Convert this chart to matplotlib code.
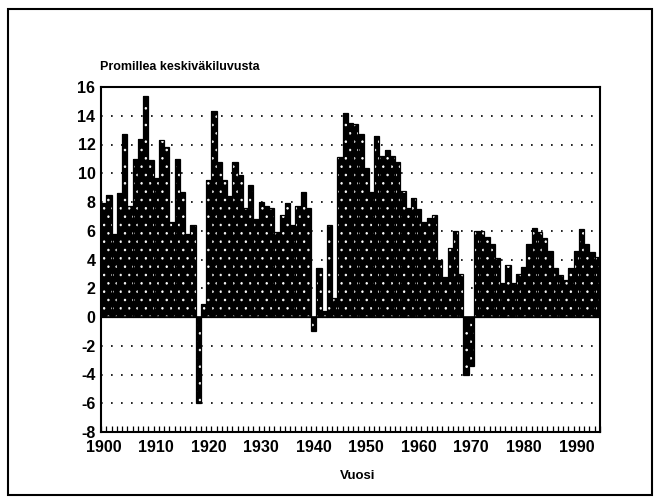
import matplotlib.pyplot as plt
from matplotlib.patches import Rectangle


YEARS = list(range(1900, 1995))

# population growth, per mille of mean population
GROWTH = [
    7.9, 8.5, 5.8, 8.6, 12.7, 7.7, 11.0, 12.4, 15.4, 10.9,      # 1900-1909
    9.7, 12.3, 11.8, 6.6, 11.0, 8.7, 5.8, 6.4, -6.0, 0.9,       # 1910-1919
    9.5, 14.3, 10.8, 9.5, 8.4, 10.8, 9.9, 7.6, 9.2, 6.8,        # 1920-1929
    8.0, 7.7, 7.6, 5.9, 7.1, 7.9, 6.4, 7.7, 8.7, 7.6,           # 1930-1939
    -1.0, 3.4, 0.4, 6.4, 1.3, 11.1, 14.2, 13.5, 13.4, 12.7,     # 1940-1949
    10.4, 8.7, 12.6, 11.2, 11.6, 11.2, 10.8, 8.8, 7.6, 8.3,     # 1950-1959
    7.5, 6.6, 6.9, 7.1, 4.0, 2.8, 4.8, 6.0, 3.0, -4.0,          # 1960-1969
    -3.4, 6.0, 6.0, 5.6, 5.1, 4.1, 2.4, 3.6, 2.4, 3.0,          # 1970-1979
    3.5, 5.1, 6.2, 5.9, 5.5, 4.6, 3.4, 2.9, 2.6, 3.4,           # 1980-1989
    4.6, 6.1, 5.1, 4.5, 4.2,                                    # 1990-1994
]

DECADES = list(range(1900, 2000, 10))
Y_TICKS = list(range(-8, 17, 2))

TITLE = 'Promillea keskiväkiluvusta'
XLABEL = 'Vuosi'


def main():
    W, H = 662, 504
    plt.rcParams['font.family'] = ['Liberation Sans', 'DejaVu Sans']
    plt.rcParams['hatch.linewidth'] = 0.6

    fig = plt.figure(figsize=(W / 100, H / 100), dpi=100)
    ax = fig.add_axes([101 / W, 72 / H, 499 / W, 345 / H])

    # dark stippled bars: white dots on black, then black outlines on top
    ax.bar(YEARS, GROWTH, width=1.0, color='black', edgecolor='white',
           hatch='..', linewidth=0, zorder=2)
    ax.bar(YEARS, GROWTH, width=1.0, color='none', edgecolor='black',
           linewidth=0.9, zorder=3)

    for y in Y_TICKS[1:-1]:
        if y == 0:
            ax.axhline(0, color='black', linewidth=1.2, zorder=4)
        else:
            ax.axhline(y, color='black', linestyle=(0, (1, 5)),
                       linewidth=1.2, zorder=1)

    ax.set_xlim(YEARS[0] - 0.5, YEARS[-1] + 0.5)
    ax.set_ylim(Y_TICKS[0], Y_TICKS[-1])

    ax.set_yticks(Y_TICKS)
    ax.set_yticklabels([str(v) for v in Y_TICKS])
    ax.set_xticks(DECADES)
    ax.set_xticklabels([str(d) for d in DECADES])
    ax.set_xticks([y - 0.5 for y in YEARS] + [YEARS[-1] + 0.5], minor=True)

    ax.tick_params(axis='both', which='major', length=0, labelsize=11.5)
    ax.tick_params(axis='y', pad=4)
    ax.tick_params(axis='x', pad=6)
    ax.tick_params(axis='x', which='minor', direction='in', length=4,
                   width=0.9, bottom=True)
    for label in ax.get_xticklabels() + ax.get_yticklabels():
        label.set_fontweight('bold')

    for spine in ax.spines.values():
        spine.set_linewidth(1.5)

    fig.text(100 / W, 1 - 67 / H, TITLE, ha='left', va='center',
             fontsize=9, fontweight='bold')
    fig.text(358 / W, 1 - 476 / H, XLABEL, ha='center', va='center',
             fontsize=9.5, fontweight='bold')

    fig.add_artist(Rectangle((8 / W, 9 / H), 644 / W, 486 / H,
                             transform=fig.transFigure, fill=False,
                             linewidth=1.5, edgecolor='black'))

    fig.savefig('out.png', dpi=100, facecolor='white')


if __name__ == '__main__':
    main()
